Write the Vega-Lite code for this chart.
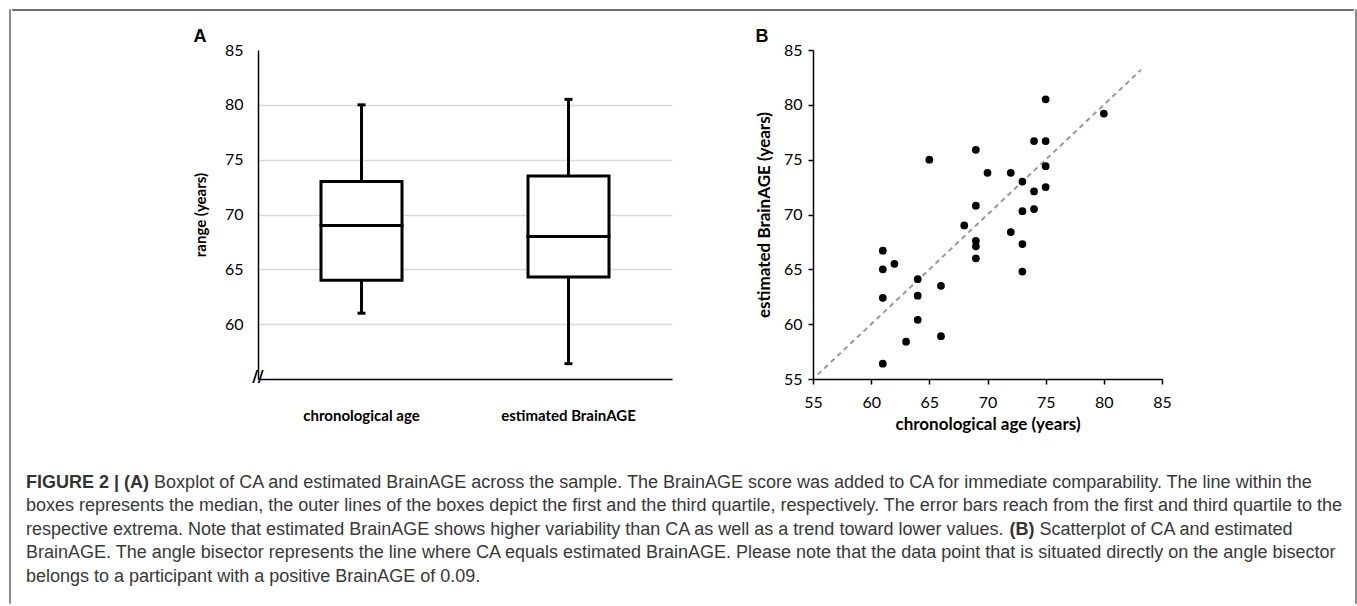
{
  "$schema": "https://vega.github.io/schema/vega-lite/v6.json",
  "padding": {"left": 8, "top": 8, "right": 0, "bottom": 0},
  "background": "white",
  "spacing": 0,
  "datasets": {
    "boxes": [
      {"cat": "chronological age", "min": 61, "q1": 64, "median": 69, "q3": 73, "max": 80},
      {"cat": "estimated BrainAGE", "min": 56.4, "q1": 64.3, "median": 68, "q3": 73.5, "max": 80.5}
    ],
    "points": [
      {"ca": 75, "est": 80.5}, {"ca": 80, "est": 79.2}, {"ca": 74, "est": 76.7}, {"ca": 75, "est": 76.7},
      {"ca": 69, "est": 75.9}, {"ca": 65, "est": 75.0}, {"ca": 70, "est": 73.8}, {"ca": 72, "est": 73.8},
      {"ca": 75, "est": 74.4}, {"ca": 73, "est": 73.0}, {"ca": 75, "est": 72.5}, {"ca": 74, "est": 72.1},
      {"ca": 69, "est": 70.8}, {"ca": 73, "est": 70.3}, {"ca": 74, "est": 70.5}, {"ca": 68, "est": 69.0},
      {"ca": 72, "est": 68.4}, {"ca": 69, "est": 67.6}, {"ca": 69, "est": 67.1}, {"ca": 73, "est": 67.3},
      {"ca": 69, "est": 66.0}, {"ca": 73, "est": 64.8}, {"ca": 61, "est": 66.7}, {"ca": 61, "est": 65.0},
      {"ca": 62, "est": 65.5}, {"ca": 64, "est": 64.1}, {"ca": 66, "est": 63.5}, {"ca": 61, "est": 62.4},
      {"ca": 64, "est": 62.6}, {"ca": 64, "est": 60.4}, {"ca": 66, "est": 58.9}, {"ca": 63, "est": 58.4},
      {"ca": 61, "est": 56.4}
    ],
    "bisector": [{"ca": 55.4, "est": 55.4}, {"ca": 83.2, "est": 83.2}],
    "caption": [
      {"line": 1, "part": "lead", "text": "FIGURE 2 | (A)"},
      {"line": 1, "part": "rest1", "text": "Boxplot of CA and estimated BrainAGE across the sample. The BrainAGE score was added to CA for immediate comparability. The line within the"},
      {"line": 2, "part": "main", "text": "boxes represents the median, the outer lines of the boxes depict the first and the third quartile, respectively. The error bars reach from the first and third quartile to the"},
      {"line": 3, "part": "main", "text": "respective extrema. Note that estimated BrainAGE shows higher variability than CA as well as a trend toward lower values."},
      {"line": 3, "part": "boldB", "text": "(B)"},
      {"line": 3, "part": "rest3", "text": "Scatterplot of CA and estimated"},
      {"line": 4, "part": "main", "text": "BrainAGE. The angle bisector represents the line where CA equals estimated BrainAGE. Please note that the data point that is situated directly on the angle bisector"},
      {"line": 5, "part": "main", "text": "belongs to a participant with a positive BrainAGE of 0.09."}
    ]
  },
  "hconcat": [
    {
      "width": 1, "height": 594,
      "data": {"values": []},
      "mark": "point",
      "view": {"stroke": "#8a8a8a", "strokeWidth": 1}
    },
    {
      "spacing": 17,
      "vconcat": [
        {
          "width": 1341, "height": 1,
          "data": {"values": []},
          "mark": "point",
          "view": {"stroke": "#6e6e6e", "strokeWidth": 1}
        },
        {
          "spacing": 141,
          "bounds": "flush",
          "hconcat": [
            {"width": 105, "height": 1, "data": {"values": []}, "mark": "point"},
            {
              "width": 414, "height": 329,
              "title": {"text": "A", "anchor": "start", "frame": "bounds", "font": "Liberation Sans", "fontSize": 18, "fontWeight": "bold", "color": "#000", "offset": -4},
              "data": {"name": "boxes"},
              "encoding": {
                "x": {"field": "cat", "type": "nominal", "sort": null,
                  "scale": {"paddingInner": 0, "paddingOuter": 0},
                  "axis": {"title": null, "labelAngle": 0, "labelFont": "Lato", "labelFontSize": 15, "labelFontWeight": "bold", "labelColor": "#000", "ticks": false, "labelPadding": 29, "domainColor": "#000", "domainWidth": 1.5}}
              },
              "layer": [
                {
                  "mark": {"type": "rule", "strokeWidth": 3, "color": "#000"},
                  "encoding": {
                    "y": {"field": "min", "type": "quantitative", "scale": {"domain": [55, 85], "nice": false, "zero": false},
                      "axis": {"values": [60, 65, 70, 75, 80, 85], "title": "range (years)", "titleFont": "Lato", "titleFontSize": 15, "titleFontWeight": "bold", "titleColor": "#000", "titlePadding": 16,
                        "labelFont": "Lato", "labelFontSize": 16, "labelColor": "#000", "labelPadding": 15, "ticks": false,
                        "domainColor": "#000", "domainWidth": 1.5,
                        "grid": true, "gridColor": "#d9d9d9", "gridWidth": 1.5,
                        "gridOpacity": {"condition": {"test": "datum.value == 85", "value": 0}, "value": 1}}},
                    "y2": {"field": "max"}
                  }
                },
                {
                  "mark": {"type": "bar", "fill": "white", "stroke": "#000", "strokeWidth": 3, "width": 81},
                  "encoding": {"y": {"field": "q1", "type": "quantitative"}, "y2": {"field": "q3"}}
                },
                {
                  "mark": {"type": "tick", "color": "#000", "thickness": 3, "size": 84, "opacity": 1},
                  "encoding": {"y": {"field": "median", "type": "quantitative"}}
                },
                {
                  "mark": {"type": "tick", "color": "#000", "thickness": 3, "size": 8, "opacity": 1},
                  "encoding": {"y": {"field": "min", "type": "quantitative"}}
                },
                {
                  "mark": {"type": "tick", "color": "#000", "thickness": 3, "size": 8, "opacity": 1},
                  "encoding": {"y": {"field": "max", "type": "quantitative"}}
                },
                {
                  "mark": {"type": "text", "text": "//", "font": "DejaVu Sans", "fontSize": 16, "color": "#000", "dy": -2},
                  "encoding": {
                    "x": {"datum": "chronological age", "type": "nominal", "bandPosition": 0},
                    "y": {"datum": 55, "type": "quantitative"}
                  }
                }
              ]
            },
            {
              "width": 349, "height": 329,
              "title": {"text": "B", "anchor": "start", "frame": "bounds", "font": "Liberation Sans", "fontSize": 18, "fontWeight": "bold", "color": "#000", "offset": -4},
              "layer": [
                {
                  "data": {"name": "bisector"},
                  "mark": {"type": "line", "strokeDash": [5, 4], "color": "#999999", "strokeWidth": 2},
                  "encoding": {
                    "x": {"field": "ca", "type": "quantitative", "scale": {"domain": [55, 85], "nice": false, "zero": false},
                      "axis": {"values": [55, 60, 65, 70, 75, 80, 85], "title": "chronological age (years)", "titleFont": "Lato", "titleFontSize": 17, "titleFontWeight": "bold", "titleColor": "#000", "titlePadding": 6,
                        "labelFont": "Lato", "labelFontSize": 16, "labelColor": "#000", "labelPadding": 10, "labelFlush": false,
                        "tickSize": 5, "tickColor": "#000", "tickWidth": 1.5, "domainColor": "#000", "domainWidth": 1.5, "grid": false}},
                    "y": {"field": "est", "type": "quantitative", "scale": {"domain": [55, 85], "nice": false, "zero": false},
                      "axis": {"values": [55, 60, 65, 70, 75, 80, 85], "title": "estimated BrainAGE (years)", "titleFont": "Lato", "titleFontSize": 17, "titleFontWeight": "bold", "titleColor": "#000", "titlePadding": 10,
                        "labelFont": "Lato", "labelFontSize": 16, "labelColor": "#000", "labelPadding": 6, "labelFlush": false,
                        "tickSize": 5, "tickColor": "#000", "tickWidth": 1.5, "domainColor": "#000", "domainWidth": 1.5, "grid": false}}
                  }
                },
                {
                  "data": {"name": "points"},
                  "mark": {"type": "circle", "size": 60, "color": "#000", "opacity": 1},
                  "encoding": {
                    "x": {"field": "ca", "type": "quantitative"},
                    "y": {"field": "est", "type": "quantitative"}
                  }
                }
              ]
            }
          ]
        },
        {
          "width": 1300,
          "height": 128,
          "data": {"name": "caption"},
          "encoding": {
            "y": {"field": "line", "type": "ordinal", "axis": null, "scale": {"padding": 0.723, "align": 1}}
          },
          "layer": [
            {
              "transform": [{"filter": "datum.part == 'main'"}],
              "mark": {"type": "text", "align": "left", "baseline": "middle", "font": "Liberation Sans", "fontSize": 18, "color": "#383838"},
              "encoding": {"x": {"value": 14}, "text": {"field": "text"}}
            },
            {
              "transform": [{"filter": "datum.part == 'lead'"}],
              "mark": {"type": "text", "align": "left", "baseline": "middle", "font": "Liberation Sans", "fontSize": 18, "fontWeight": "bold", "color": "#333333"},
              "encoding": {"x": {"value": 14}, "text": {"field": "text"}}
            },
            {
              "transform": [{"filter": "datum.part == 'rest1'"}],
              "mark": {"type": "text", "align": "left", "baseline": "middle", "font": "Liberation Sans", "fontSize": 18, "color": "#383838"},
              "encoding": {"x": {"value": 142.1}, "text": {"field": "text"}}
            },
            {
              "transform": [{"filter": "datum.part == 'boldB'"}],
              "mark": {"type": "text", "align": "left", "baseline": "middle", "font": "Liberation Sans", "fontSize": 18, "fontWeight": "bold", "color": "#333333"},
              "encoding": {"x": {"value": 997.4}, "text": {"field": "text"}}
            },
            {
              "transform": [{"filter": "datum.part == 'rest3'"}],
              "mark": {"type": "text", "align": "left", "baseline": "middle", "font": "Liberation Sans", "fontSize": 18, "color": "#383838"},
              "encoding": {"x": {"value": 1027.4}, "text": {"field": "text"}}
            }
          ]
        }
      ]
    },
    {
      "width": 1, "height": 594,
      "data": {"values": []},
      "mark": "point",
      "view": {"stroke": "#8a8a8a", "strokeWidth": 1}
    }
  ],
  "config": {
    "view": {"stroke": null},
    "axis": {"labelFont": "Lato", "titleFont": "Lato"}
  }
}
